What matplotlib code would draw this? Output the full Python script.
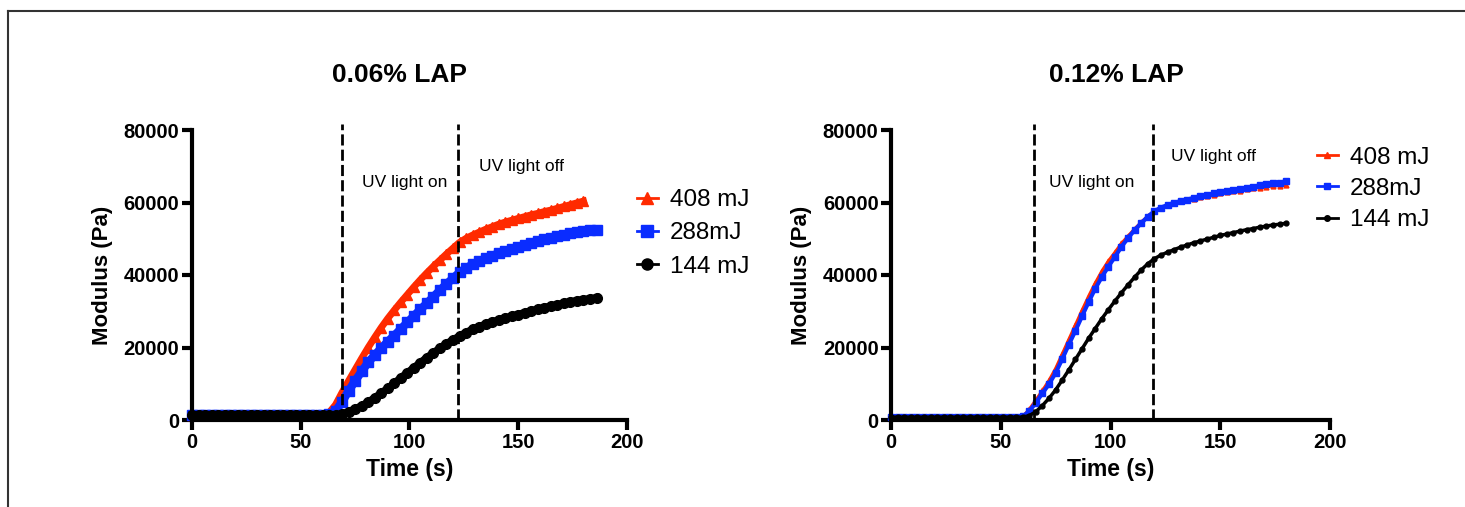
import matplotlib
matplotlib.use('Agg')
import matplotlib.pyplot as plt
from matplotlib.lines import Line2D

plt.rcParams['font.family'] = ['Liberation Sans', 'DejaVu Sans']

# time grid (s), sampled every 3 s
time_left = list(range(0, 187, 3))
time_right = list(range(0, 181, 3))

# 0.06% LAP, modulus (Pa)
lap006_408 = [1400] * 21 + [
    2000, 4200, 7600, 10800, 13900, 17000, 20000, 22800, 25500, 28000,
    30300, 32500, 34600, 36700, 38700, 40600, 42400, 44100, 45800, 47400,
    49000, 50100, 51000, 51800, 52600, 53300, 54000, 54600, 55100, 55600,
    56100, 56600, 57000, 57500, 57900, 58400, 58900, 59400, 59900, 60400]
lap006_288 = [1400] * 21 + [
    1600, 2500, 5000, 8000, 10800, 13400, 15900, 17900, 19800, 21600,
    23300, 25100, 26900, 28700, 30500, 32200, 34000, 35800, 37500, 39100,
    40700, 41900, 42900, 43800, 44600, 45300, 46000, 46600, 47200, 47800,
    48300, 48800, 49300, 49800, 50300, 50700, 51100, 51500, 51800, 52100,
    52300, 52500]
lap006_144 = [1300] * 23 + [
    1600, 2300, 3000, 3900, 4900, 6100, 7400, 8700, 10100, 11600,
    13000, 14400, 15800, 17200, 18500, 19800, 21000, 22100, 23100, 24100,
    25000, 25700, 26400, 27000, 27600, 28100, 28600, 29100, 29600, 30100,
    30500, 31000, 31400, 31800, 32200, 32600, 32900, 33200, 33400, 33700]

# 0.12% LAP, modulus (Pa)
lap012_408 = [900] * 20 + [1000,
    3000, 5600, 8200, 11000, 14300, 18300, 22300, 26300, 30300, 34200,
    37800, 41100, 43900, 46300, 48800, 50800, 52800, 54600, 56300, 57700,
    58600, 59300, 59900, 60300, 60700, 61100, 61500, 61800, 62200, 62500,
    62800, 63100, 63300, 63600, 63900, 64100, 64300, 64500, 64600, 64700]
lap012_288 = [900] * 20 + [1000,
    2400, 4800, 7400, 9900, 13000, 16800, 20800, 24600, 28600, 32500,
    36200, 39400, 42300, 45000, 47800, 50200, 52400, 54300, 56100, 57600,
    58600, 59300, 59900, 60400, 60800, 61300, 61700, 62100, 62500, 62800,
    63200, 63500, 63800, 64100, 64400, 64700, 65000, 65300, 65500, 65800]
lap012_144 = [800] * 21 + [
    1200, 2300, 4000, 6000, 8300, 11000, 13800, 16700, 19600, 22500,
    25200, 27900, 30400, 32800, 35100, 37300, 39400, 41400, 43100, 44500,
    45500, 46300, 47000, 47700, 48300, 48900, 49400, 49900, 50400, 50900,
    51300, 51700, 52100, 52500, 52800, 53200, 53500, 53800, 54000, 54300]

labels = ['408 mJ', '288mJ', '144 mJ']
colors = ['#ff2a00', '#0a2cff', 'black']
markers = ['^', 's', 'o']

uv_on_off_left = [69, 122.5]
uv_on_off_right = [65, 119.5]

W, H = 1465, 507
fig = plt.figure(figsize=(W / 100, H / 100), dpi=100)

# outer frame (top and left edges)
fig.add_artist(Line2D([8 / W, 1], [1 - 11 / H] * 2, color='#333333', lw=1.5))
fig.add_artist(Line2D([8 / W] * 2, [0, 1 - 11 / H], color='#333333', lw=1.5))

ax1 = fig.add_axes([192 / W, 87 / H, 435 / W, 290 / H])
ax2 = fig.add_axes([891 / W, 87 / H, 439 / W, 290 / H])


def style_axis(ax):
    ax.set_xlim(0, 200)
    ax.set_ylim(0, 80000)
    ax.set_xticks([0, 50, 100, 150, 200])
    ax.set_yticks([0, 20000, 40000, 60000, 80000])
    for side in ['top', 'right']:
        ax.spines[side].set_visible(False)
    for side in ['left', 'bottom']:
        ax.spines[side].set_linewidth(3)
    ax.tick_params(width=3, length=7, labelsize=14.5, pad=2)
    for lab in ax.get_xticklabels() + ax.get_yticklabels():
        lab.set_fontweight('bold')
    ax.set_xlabel('Time (s)', fontsize=16.5, fontweight='bold', labelpad=5)
    ax.set_ylabel('Modulus (Pa)', fontsize=16, fontweight='bold', labelpad=8)


dash = (0, (4, 1.5))

# 0.06% LAP: dense markers merge into a solid band
series_left = [lap006_408, lap006_288, lap006_144]
band_lw = [5, 6, 5.5]
sizes_left = [7, 6.5, 7]
for vals, lab, c, m, lw, ms in zip(series_left, labels, colors, markers, band_lw, sizes_left):
    ax1.plot(time_left[:len(vals)], vals, color=c, marker=m, markersize=ms,
             lw=lw, clip_on=False)
for x in uv_on_off_left:
    ax1.axvline(x, ymin=0, ymax=1.02, color='black', lw=2, ls=dash, clip_on=False)
ax1.text(98, 65600, 'UV light on', fontsize=12.5, ha='center', va='center')
ax1.text(151.5, 69800, 'UV light off', fontsize=12.5, ha='center', va='center')
style_axis(ax1)
handles1 = [Line2D([], [], color=c, marker=m, markersize=8, lw=2)
            for c, m in zip(colors, markers)]
ax1.legend(handles1, labels, loc='upper left', bbox_to_anchor=(1.0, 0.83), frameon=False,
           fontsize=17.5, handlelength=0.86, handletextpad=0.5, labelspacing=0.47,
           borderaxespad=0)

# 0.12% LAP: thinner traces
series_right = [lap012_408, lap012_288, lap012_144]
lw_right = [2, 3, 2.5]
sizes_right = [3.5, 4.5, 3.5]
for vals, lab, c, m, lw, ms in zip(series_right, labels, colors, markers, lw_right, sizes_right):
    ax2.plot(time_right[:len(vals)], vals, color=c, marker=m, markersize=ms,
             lw=lw, clip_on=False)
for x in uv_on_off_right:
    ax2.axvline(x, ymin=0, ymax=1.02, color='black', lw=2, ls=dash, clip_on=False)
ax2.text(91.6, 65600, 'UV light on', fontsize=12.5, ha='center', va='center')
ax2.text(146.7, 72800, 'UV light off', fontsize=12.5, ha='center', va='center')
style_axis(ax2)
handles2 = [Line2D([], [], color=c, marker=m, markersize=4, lw=2)
            for c, m in zip(colors, markers)]
ax2.legend(handles2, labels, loc='upper left', bbox_to_anchor=(0.948, 0.976), frameon=False,
           fontsize=17.5, handlelength=0.86, handletextpad=0.5, labelspacing=0.38,
           borderaxespad=0)

fig.text(400 / W, 1 - 75 / H, '0.06% LAP', fontsize=19, fontweight='bold',
         ha='center', va='center')
fig.text(1116 / W, 1 - 75 / H, '0.12% LAP', fontsize=19, fontweight='bold',
         ha='center', va='center')

fig.savefig('out.png', dpi=100)
